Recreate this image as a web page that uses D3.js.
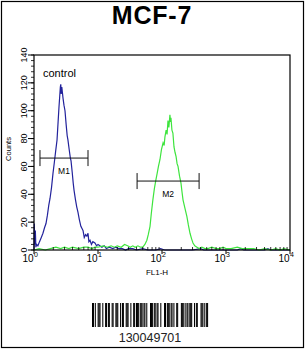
<!DOCTYPE html>
<html>
<head>
<meta charset="utf-8">
<script src="https://cdn.jsdelivr.net/npm/d3@7"></script>
<style>
  body { margin: 0; background: #fff; }
  svg { display: block; font-family: "Liberation Sans", Arial, sans-serif; }
</style>
</head>
<body>
<div id="chart"></div>
<script>
/* MCF-7 flow histogram */

const title = "MCF-7";
const sampleId = "130049701";

// control histogram: [FL1-H, counts]
const controlSeries = [
  [1.00, 0], [1.01, 19], [1.03, 4], [1.05, 14], [1.07, 2], [1.10, 4], [1.15, 3],
  [1.22, 6], [1.30, 9], [1.38, 12], [1.46, 16], [1.54, 19], [1.62, 25], [1.70, 32],
  [1.78, 37], [1.88, 45], [1.98, 55], [2.08, 63], [2.18, 71], [2.29, 79], [2.38, 92],
  [2.46, 103], [2.52, 110], [2.58, 117], [2.62, 119], [2.66, 112], [2.72, 117],
  [2.78, 113], [2.84, 109], [2.94, 104], [3.05, 100], [3.18, 90], [3.30, 82],
  [3.39, 79], [3.55, 72], [3.70, 66], [3.79, 64], [3.95, 56], [4.10, 48], [4.22, 43],
  [4.45, 36], [4.65, 31], [4.87, 27], [5.10, 22], [5.40, 17], [5.83, 14], [6.10, 9],
  [6.40, 11], [6.70, 10], [6.98, 12], [7.20, 6], [7.50, 7], [7.90, 4], [8.30, 6],
  [8.96, 5], [9.50, 3], [10.0, 4], [10.7, 3], [11.5, 2], [12.5, 3], [13.5, 1],
  [15, 2], [17, 1], [19, 2], [21, 1], [24, 1], [27, 0], [30, 1], [35, 1], [40, 0],
  [50, 1], [60, 0], [80, 0], [95, 1], [110, 0], [300, 0], [400, 1], [450, 0],
  [1500, 0], [1700, 1], [1900, 0], [4000, 0], [4500, 1], [5000, 0], [10000, 0]
];

// stained sample histogram: [FL1-H, counts]
const sampleSeries = [
  [1.0, 0], [1.2, 1], [1.5, 0], [1.8, 1], [2.2, 2], [2.6, 1], [3.0, 2], [3.5, 1],
  [4, 2], [5, 1], [6, 2], [7, 2], [8, 1], [9, 2], [10, 2], [12, 3], [14, 2], [16, 3],
  [18, 2], [20, 3], [23, 2], [26, 4], [29, 3], [32, 2], [35, 3], [38, 2], [42, 3],
  [46, 2], [50, 2], [54, 4], [58, 7], [61, 11], [65, 17], [68, 26], [72, 36],
  [76, 44], [80, 50], [84, 55], [88, 60], [93, 65], [98, 72], [104, 77], [108, 75],
  [111, 81], [116, 86], [120, 83], [124, 93], [128, 88], [133, 97], [136, 92],
  [138, 95], [143, 86], [148, 84], [154, 74], [160, 70], [166, 67], [172, 62],
  [178, 60], [188, 53], [198, 48], [205, 42], [213, 36], [228, 30], [245, 24],
  [258, 18], [274, 12], [290, 8], [305, 5], [325, 3], [352, 2], [380, 1], [420, 2],
  [470, 1], [520, 1], [600, 2], [700, 1], [800, 1], [900, 2], [1000, 1], [1200, 1],
  [1500, 2], [1800, 1], [2200, 1], [2700, 1], [3300, 0], [4000, 1], [5000, 0],
  [6000, 1], [7000, 0], [8000, 1], [10000, 0]
];

// gates: name, from, to, count level
const gates = [
  { name: "M1", from: 1.24, to: 6.98, level: 66 },
  { name: "M2", from: 40.8, to: 380, level: 49.5 }
];

const xTicks = [1, 10, 100, 1000, 10000];
const yTicks = [0, 20, 40, 60, 80, 100, 120, 140];

// barcode modules (1 = bar)
const barcode = "1101001110010011011001100111001011001110010011011101110110100011101101100100011011101101001100011101011011100101100011101011";

const W = 306, H = 349;
const svg = d3.select("#chart").append("svg").attr("width", W).attr("height", H);

svg.append("rect")
  .attr("x", 1.5).attr("y", 1.5).attr("width", 302).attr("height", 346)
  .attr("fill", "none").attr("stroke", "#000").attr("stroke-width", 1.2);

svg.append("text")
  .attr("x", 152).attr("y", 24)
  .attr("text-anchor", "middle")
  .attr("font-size", 25).attr("font-weight", "bold")
  .attr("letter-spacing", 0.8)
  .text(title);

const x = d3.scaleLog().domain([1, 10000]).range([34, 290]);
const y = d3.scaleLinear().domain([0, 140]).range([250, 55]);

// curves
const line = d3.line().x(d => x(d[0])).y(d => y(d[1]));

svg.append("path")
  .datum(controlSeries)
  .attr("d", line)
  .attr("fill", "none")
  .attr("stroke", "#23239c")
  .attr("stroke-width", 1.2);

svg.append("path")
  .datum(sampleSeries)
  .attr("d", line)
  .attr("fill", "none")
  .attr("stroke", "#3ee43e")
  .attr("stroke-width", 1.2);

// frame
svg.append("rect")
  .attr("x", x(1)).attr("y", y(140))
  .attr("width", x(10000) - x(1)).attr("height", y(0) - y(140))
  .attr("fill", "none").attr("stroke", "#000").attr("stroke-width", 1.2);

// x axis: major ticks down, minor ticks up
const xMinor = [];
for (let d = 1; d < 10000; d *= 10) for (let k = 2; k <= 9; k++) xMinor.push(d * k);

svg.append("g").selectAll("line").data(xMinor).join("line")
  .attr("x1", d => x(d)).attr("x2", d => x(d))
  .attr("y1", y(0)).attr("y2", y(0) - 3)
  .attr("stroke", "#000").attr("stroke-width", 0.8);

const xg = svg.append("g").selectAll("g").data(xTicks).join("g")
  .attr("transform", d => `translate(${x(d)},${y(0)})`);
xg.append("line").attr("y1", 0).attr("y2", 4).attr("stroke", "#000");
xg.append("text")
  .attr("x", -0.5).attr("y", 11.5)
  .attr("text-anchor", "end")
  .attr("font-size", 10)
  .text("10");
xg.append("text")
  .attr("x", 0).attr("y", 6.5)
  .attr("font-size", 7)
  .text(d => Math.round(Math.log10(d)));

svg.append("text")
  .attr("x", 157).attr("y", 275)
  .attr("text-anchor", "middle")
  .attr("font-size", 8)
  .text("FL1-H");

// y axis: major and minor ticks to the left
const yMinor = d3.range(0, 141, 4);
svg.append("g").selectAll("line").data(yMinor).join("line")
  .attr("x1", x(1) - 3).attr("x2", x(1))
  .attr("y1", d => y(d)).attr("y2", d => y(d))
  .attr("stroke", "#000").attr("stroke-width", 0.8);

const yg = svg.append("g").selectAll("g").data(yTicks).join("g")
  .attr("transform", d => `translate(${x(1)},${y(d)})`);
yg.append("line").attr("x1", -6).attr("x2", 0).attr("stroke", "#000");
yg.append("text")
  .attr("transform", "translate(-7,0) rotate(-90)")
  .attr("text-anchor", "middle")
  .attr("font-size", 9)
  .text(d => d);

svg.append("text")
  .attr("transform", "translate(11,149) rotate(-90)")
  .attr("text-anchor", "middle")
  .attr("font-size", 7.5)
  .text("Counts");

svg.append("text")
  .attr("x", 43).attr("y", 77)
  .attr("font-size", 11)
  .text("control");

// gate markers
const gg = svg.append("g").selectAll("g").data(gates).join("g");
gg.append("line")
  .attr("x1", d => x(d.from)).attr("x2", d => x(d.to))
  .attr("y1", d => y(d.level)).attr("y2", d => y(d.level))
  .attr("stroke", "#111");
gg.append("line")
  .attr("x1", d => x(d.from)).attr("x2", d => x(d.from))
  .attr("y1", d => y(d.level) - 8).attr("y2", d => y(d.level) + 8)
  .attr("stroke", "#111");
gg.append("line")
  .attr("x1", d => x(d.to)).attr("x2", d => x(d.to))
  .attr("y1", d => y(d.level) - 8).attr("y2", d => y(d.level) + 8)
  .attr("stroke", "#111");
gg.append("text")
  .attr("x", d => (x(d.from) + x(d.to)) / 2)
  .attr("y", d => y(d.level) + 16)
  .attr("text-anchor", "middle")
  .attr("font-size", 8.5)
  .text(d => d.name);

// barcode
const modules = barcode.split("").map(Number);
const bx = d3.scaleLinear().domain([0, modules.length]).range([92, 208]);
svg.append("g").selectAll("rect").data(modules.map((m, i) => ({ m, i })).filter(d => d.m === 1))
  .join("rect")
  .attr("x", d => bx(d.i)).attr("width", bx(1) - bx(0) + 0.1)
  .attr("y", 303).attr("height", 24)
  .attr("fill", "#000");

svg.append("text")
  .attr("x", 150).attr("y", 342)
  .attr("text-anchor", "middle")
  .attr("font-size", 12.5)
  .attr("fill", "#222")
  .text(sampleId);
</script>
</body>
</html>
